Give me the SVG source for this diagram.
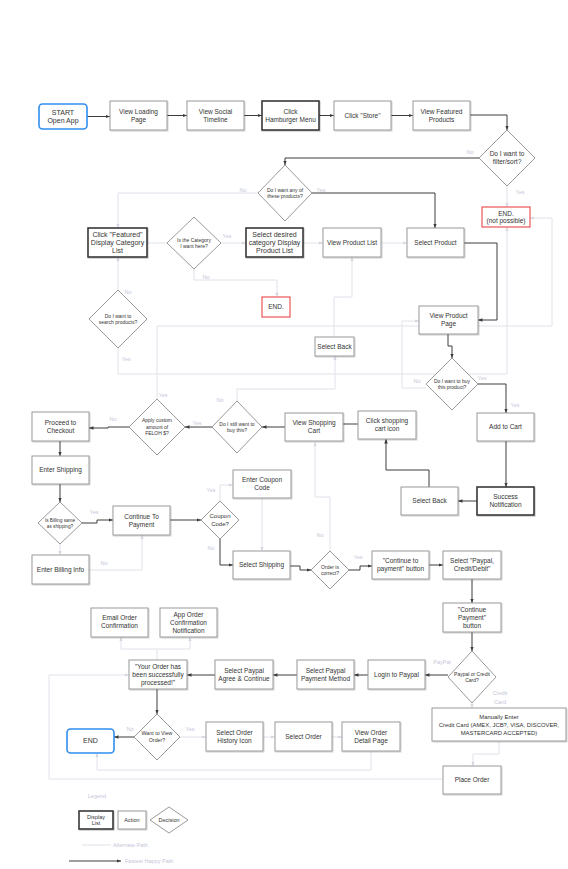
<svg xmlns="http://www.w3.org/2000/svg" width="568" height="869" viewBox="0 0 568 869">
<defs>
<style>
text{font-family:"Liberation Sans",Arial,sans-serif;fill:#333;text-anchor:middle}
.t{font-size:6.5px}
.td{font-size:7px}
.ts{font-size:5px}
.lb{font-size:5.5px;fill:#c6c6da}
.box{fill:#fff;stroke:#9a9a9a;stroke-width:1;filter:url(#sh)}
.disp{fill:#fff;stroke:#3a3a3a;stroke-width:1.6;filter:url(#sh)}
.dec{fill:#fff;stroke:#9a9a9a;stroke-width:1}
.blue{fill:#fff;stroke:#2f8ef0;stroke-width:1.6}
.red{fill:#fff;stroke:#e8464a;stroke-width:1.1}
.dk{fill:none;stroke:#3c3c3c;stroke-width:1;marker-end:url(#ad)}
.dn{fill:none;stroke:#3c3c3c;stroke-width:1}
.lt{fill:none;stroke:#e2e2ea;stroke-width:1;marker-end:url(#al)}
.ln{fill:none;stroke:#e2e2ea;stroke-width:1}
</style>
<filter id="sh" x="-10%" y="-10%" width="130%" height="140%"><feDropShadow dx="0.8" dy="0.9" stdDeviation="0.6" flood-color="#000" flood-opacity="0.22"/></filter>
<marker id="ad" viewBox="0 0 10 10" refX="10" refY="5" markerWidth="4.5" markerHeight="4.5" markerUnits="userSpaceOnUse" orient="auto"><path d="M0,1 L10,5 L0,9 z" fill="#3c3c3c"/></marker>
<marker id="al" viewBox="0 0 10 10" refX="10" refY="5" markerWidth="4" markerHeight="4" markerUnits="userSpaceOnUse" orient="auto"><path d="M0,1 L10,5 L0,9 z" fill="#d6d6e2"/></marker>
</defs>
<rect width="568" height="869" fill="#fff"/>

<g id="connectors">
<polyline class="dk" points="87,116.5 110,116.5"/>
<polyline class="dk" points="167,115.5 187,115.5"/>
<polyline class="dk" points="244,115.5 262,115.5"/>
<polyline class="dk" points="319,115.5 334,115.5"/>
<polyline class="dk" points="391,115.5 413,115.5"/>
<polyline class="dk" points="470,115 507,115 507,130"/>
<polyline class="dk" points="479,158 285,158 285,165"/>
<polyline class="dk" points="312,193 435,193 435,228"/>
<polyline class="dk" points="464,243 497,243 497,320 478,320"/>
<polyline class="dk" points="448,334 448,346 452,346 452,358"/>
<polyline class="dk" points="478,384 506,384 506,413"/>
<polyline class="dk" points="506,441 506,487"/>
<polyline class="dk" points="477,501 458,501"/>
<polyline class="dk" points="429,487 429,470 386,470 386,439"/>
<polyline class="dn" points="358,424 343,424"/>
<polyline class="dk" points="285,427 262,427"/>
<polyline class="dk" points="212,427 185,427"/>
<polyline class="dk" points="129,427 108,427 108,428 89,428"/>
<polyline class="dk" points="60,441 60,456"/>
<polyline class="dk" points="60,484 60,502"/>
<polyline class="dk" points="82,523 97,523 97,520 113,520"/>
<polyline class="dk" points="170,520 201,520"/>
<polyline class="dk" points="220,539 220,565 233,565"/>
<polyline class="dk" points="290,566 300,566 300,570 311,570"/>
<polyline class="dk" points="349,570 360,570 360,566 372,566"/>
<polyline class="dk" points="429,565 443,565"/>
<polyline class="dk" points="472,579 472,603"/>
<polyline class="dk" points="472,632 472,651"/>
<polyline class="dk" points="448,675 425,675"/>
<polyline class="dk" points="368,675 354,675"/>
<polyline class="dk" points="297,675 273,675"/>
<polyline class="dk" points="215,675 187,675"/>
<polyline class="dk" points="157,689 157,714"/>
<polyline class="dk" points="134,737 114,737"/>

<polyline class="lt" points="507,186 507,207"/>
<polyline class="lt" points="258,193 118,193 118,228"/>
<polyline class="ln" points="147,243 167,243"/>
<polyline class="lt" points="221,243 246,243"/>
<polyline class="lt" points="303,243 323,243"/>
<polyline class="lt" points="381,243 407,243"/>
<polyline class="lt" points="194,269 194,280 277,280 277,297"/>
<polyline class="lt" points="118,290 118,257"/>
<polyline class="lt" points="118,348 118,374 507,374 507,227"/>
<polyline class="lt" points="157,399 157,326 552,326 552,218 530,218"/>
<polyline class="lt" points="334,337 334,297 352,297 352,257"/>
<polyline class="lt" points="237,401 237,389 335,389 335,356"/>
<polyline class="lt" points="426,388 402,388 402,321 419,321"/>
<polyline class="lt" points="330,551 330,497 315,497 315,442"/>
<polyline class="lt" points="220,501 220,485 233,485"/>
<polyline class="lt" points="262,498 262,551"/>
<polyline class="lt" points="60,544 60,555"/>
<polyline class="lt" points="89,570 142,570 142,535"/>
<polyline class="lt" points="180,737 206,737"/>
<polyline class="lt" points="263,737 275,737"/>
<polyline class="lt" points="332,737 342,737"/>
<polyline class="lt" points="371,751 371,770 97,770 97,753"/>
<polyline class="lt" points="443,779 49,779 49,675 129,675"/>
<polyline class="ln" points="157,660 157,649"/>
<polyline class="ln" points="121,649 190,649"/>
<polyline class="lt" points="121,649 121,637"/>
<polyline class="lt" points="190,649 190,637"/>
<polyline class="lt" points="472,703 472,708"/>
<polyline class="lt" points="499,741 499,754 473,754 473,766"/>

<text class="lb" x="470" y="154">No</text>
<text class="lb" x="520" y="194">Yes</text>
<text class="lb" x="321" y="192">Yes</text>
<text class="lb" x="243" y="192">No</text>
<text class="lb" x="227" y="238">Yes</text>
<text class="lb" x="206" y="279">No</text>
<text class="lb" x="128" y="294">No</text>
<text class="lb" x="126" y="361">Yes</text>
<text class="lb" x="163" y="397">Yes</text>
<text class="lb" x="220" y="402">No</text>
<text class="lb" x="197" y="425">Yes</text>
<text class="lb" x="113" y="421">No</text>
<text class="lb" x="417" y="383">No</text>
<text class="lb" x="482" y="380">Yes</text>
<text class="lb" x="515" y="407">Yes</text>
<text class="lb" x="94" y="514">Yes</text>
<text class="lb" x="104" y="565">No</text>
<text class="lb" x="211" y="492">Yes</text>
<text class="lb" x="211" y="550">No</text>
<text class="lb" x="320" y="537">No</text>
<text class="lb" x="358" y="559">Yes</text>
<text class="lb" x="442" y="664">PayPal</text>
<text class="lb" x="500" y="695">Credit</text>
<text class="lb" x="500" y="704">Card</text>
<text class="lb" x="130" y="731">No</text>
<text class="lb" x="190" y="731">Yes</text>
</g>

<g id="start"><rect class="blue" x="39" y="104" width="48" height="25" rx="3.5"/><text class="td" x="63" y="114.7">START</text><text class="td" x="63" y="123.2">Open App</text></g>
<g id="loading"><rect class="box" x="110" y="101" width="57" height="29"/><text class="t" x="138.5" y="113.8">View Loading</text><text class="t" x="138.5" y="121.8">Page</text></g>
<g id="social"><rect class="box" x="187" y="101" width="57" height="29"/><text class="t" x="215.5" y="113.8">View Social</text><text class="t" x="215.5" y="121.8">Timeline</text></g>
<g id="hamburger"><rect class="disp" x="262" y="101" width="57" height="29"/><text class="t" x="290.5" y="113.8">Click</text><text class="t" x="290.5" y="121.8">Hamburger Menu</text></g>
<g id="store"><rect class="box" x="334" y="101" width="57" height="29"/><text class="t" x="362.5" y="117.8">Click "Store"</text></g>
<g id="featured"><rect class="box" x="413" y="101" width="57" height="29"/><text class="t" x="441.5" y="113.8">View Featured</text><text class="t" x="441.5" y="121.8">Products</text></g>
<g id="filter"><polygon class="dec" points="507,130 535,158 507,186 479,158"/><text class="t" x="507" y="156.3">Do I want to</text><text class="t" x="507" y="164.3">filter/sort?</text></g>
<g id="end-np"><rect class="red" x="482" y="207" width="48" height="20"/><text class="t" x="506" y="215.5">END.</text><text class="t" x="506" y="223">(not possible)</text></g>
<g id="anyprod"><polygon class="dec" points="285,165 312,193 285,221 258,193"/><text class="ts" x="285" y="191.5">Do I want any of</text><text class="ts" x="285" y="198">these products?</text></g>
<g id="clickfeat"><rect class="disp" x="88" y="228" width="59" height="29"/><text class="td" x="117.5" y="236.9">Click "Featured"</text><text class="td" x="117.5" y="244.9">Display Category</text><text class="td" x="117.5" y="252.9">List</text></g>
<g id="iscat"><polygon class="dec" points="194,217 221,243 194,269 167,243"/><text class="ts" x="194" y="241.5">Is the Category</text><text class="ts" x="194" y="248">I want here?</text></g>
<g id="selcat"><rect class="disp" x="246" y="228" width="57" height="29"/><text class="td" x="274.5" y="236.9">Select desired</text><text class="td" x="274.5" y="244.9">category Display</text><text class="td" x="274.5" y="252.9">Product List</text></g>
<g id="viewlist"><rect class="box" x="323" y="228" width="58" height="29"/><text class="t" x="352" y="244.8">View Product List</text></g>
<g id="selprod"><rect class="box" x="407" y="228" width="57" height="29"/><text class="t" x="435.5" y="244.8">Select Product</text></g>
<g id="end1"><rect class="red" x="262" y="297" width="28" height="20"/><text class="t" x="276" y="309.3">END.</text></g>
<g id="search"><polygon class="dec" points="118,290 147,319 118,348 89,319"/><text class="ts" x="118" y="317.5">Do I want to</text><text class="ts" x="118" y="324">search products?</text></g>
<g id="selback1"><rect class="box" x="315" y="337" width="39" height="19"/><text class="t" x="334.5" y="348.8">Select Back</text></g>
<g id="viewpp"><rect class="box" x="419" y="306" width="59" height="28"/><text class="t" x="448.5" y="318.3">View Product</text><text class="t" x="448.5" y="326.3">Page</text></g>
<g id="buy"><polygon class="dec" points="452,358 478,384 452,410 426,384"/><text class="ts" x="452" y="382.5">Do I want to buy</text><text class="ts" x="452" y="389">this product?</text></g>
<g id="addcart"><rect class="box" x="477" y="413" width="57" height="28"/><text class="t" x="505.5" y="429.3">Add to Cart</text></g>
<g id="success"><rect class="disp" x="477" y="487" width="57" height="28"/><text class="t" x="505.5" y="499.3">Success</text><text class="t" x="505.5" y="507.3">Notification</text></g>
<g id="selback2"><rect class="box" x="401" y="487" width="57" height="28"/><text class="t" x="429.5" y="503.3">Select Back</text></g>
<g id="clickcart"><rect class="box" x="358" y="411" width="58" height="28"/><text class="t" x="387" y="423.3">Click shopping</text><text class="t" x="387" y="431.3">cart icon</text></g>
<g id="viewcart"><rect class="box" x="285" y="413" width="58" height="28"/><text class="t" x="314" y="425.3">View Shopping</text><text class="t" x="314" y="433.3">Cart</text></g>
<g id="stillbuy"><polygon class="dec" points="237,401 262,427 237,453 212,427"/><text class="ts" x="237" y="425.5">Do I still want to</text><text class="ts" x="237" y="432">buy this?</text></g>
<g id="apply"><polygon class="dec" points="157,399 185,427 157,455 129,427"/><text class="ts" x="157" y="422.3">Apply custom</text><text class="ts" x="157" y="428.8">amount of</text><text class="ts" x="157" y="435.3">FELOH $?</text></g>
<g id="checkout"><rect class="box" x="32" y="412" width="57" height="29"/><text class="t" x="60.5" y="424.8">Proceed to</text><text class="t" x="60.5" y="432.8">Checkout</text></g>
<g id="entership"><rect class="box" x="32" y="456" width="57" height="28"/><text class="t" x="60.5" y="472.3">Enter Shipping</text></g>
<g id="billing"><polygon class="dec" points="60,502 82,523 60,544 38,523"/><text style="font-size:4.7px" x="60" y="521.7">Is Billing same</text><text style="font-size:4.7px" x="60" y="527.7">as shipping?</text></g>
<g id="contpay"><rect class="box" x="113" y="506" width="57" height="29"/><text class="t" x="141.5" y="518.8">Continue To</text><text class="t" x="141.5" y="526.8">Payment</text></g>
<g id="coupon"><polygon class="dec" points="220,501 239,520 220,539 201,520"/><text style="font-size:6px" x="220" y="518.4">Coupon</text><text style="font-size:6px" x="220" y="525.9">Code?</text></g>
<g id="entercoupon"><rect class="box" x="233" y="470" width="58" height="28"/><text class="t" x="262" y="482.3">Enter Coupon</text><text class="t" x="262" y="490.3">Code</text></g>
<g id="selship"><rect class="box" x="233" y="551" width="57" height="28"/><text class="t" x="261.5" y="567.3">Select Shipping</text></g>
<g id="enterbill"><rect class="box" x="32" y="555" width="57" height="29"/><text class="t" x="60.5" y="571.8">Enter Billing Info</text></g>
<g id="ordercorrect"><polygon class="dec" points="330,551 349,570 330,589 311,570"/><text class="ts" x="330" y="568.5">Order is</text><text class="ts" x="330" y="575">correct?</text></g>
<g id="contpaybtn"><rect class="box" x="372" y="551" width="57" height="28"/><text class="t" x="400.5" y="563.3">"Continue to</text><text class="t" x="400.5" y="571.3">payment" button</text></g>
<g id="selpaypal"><rect class="box" x="443" y="551" width="58" height="28"/><text class="t" x="472" y="563.3">Select "Paypal,</text><text class="t" x="472" y="571.3">Credit/Debit"</text></g>
<g id="contpayment"><rect class="box" x="443" y="603" width="58" height="29"/><text class="t" x="472" y="611.8">"Continue</text><text class="t" x="472" y="619.8">Payment"</text><text class="t" x="472" y="627.8">button</text></g>
<g id="pporcc"><polygon class="dec" points="472,651 496,677 472,703 448,677"/><text class="ts" x="472" y="675.5">Paypal or Credit</text><text class="ts" x="472" y="682">Card?</text></g>
<g id="login"><rect class="box" x="368" y="660" width="57" height="29"/><text class="t" x="396.5" y="676.8">Login to Paypal</text></g>
<g id="selppmethod"><rect class="box" x="297" y="660" width="57" height="29"/><text class="t" x="325.5" y="672.8">Select  Paypal</text><text class="t" x="325.5" y="680.8">Payment Method</text></g>
<g id="agree"><rect class="box" x="215" y="660" width="58" height="29"/><text class="t" x="244" y="672.8">Select Paypal</text><text class="t" x="244" y="680.8">Agree &amp; Continue</text></g>
<g id="yourorder"><rect class="box" x="129" y="660" width="58" height="29"/><text class="t" x="158" y="668.8">"Your Order has</text><text class="t" x="158" y="676.8">been successfully</text><text class="t" x="158" y="684.8">processed!"</text></g>
<g id="email"><rect class="box" x="91" y="608" width="57" height="29"/><text class="t" x="119.5" y="620.3">Email Order</text><text class="t" x="119.5" y="628.3">Confirmation</text></g>
<g id="apporder"><rect class="box" x="160" y="608" width="57" height="29"/><text class="t" x="188.5" y="616.8">App Order</text><text class="t" x="188.5" y="624.8">Confirmation</text><text class="t" x="188.5" y="632.8">Notification</text></g>
<g id="wantview"><polygon class="dec" points="157,714 180,737 157,760 134,737"/><text style="font-size:5.3px" x="157" y="735.4">Want to View</text><text style="font-size:5.3px" x="157" y="742.4">Order?</text></g>
<g id="end2"><rect class="blue" x="67" y="729" width="47" height="24" rx="3.5"/><text class="td" x="90.5" y="743.4">END</text></g>
<g id="orderhist"><rect class="box" x="206" y="722" width="57" height="29"/><text class="t" x="234.5" y="734.8">Select Order</text><text class="t" x="234.5" y="742.8">History Icon</text></g>
<g id="selorder"><rect class="box" x="275" y="722" width="57" height="29"/><text class="t" x="303.5" y="738.8">Select Order</text></g>
<g id="vieworder"><rect class="box" x="342" y="722" width="58" height="29"/><text class="t" x="371" y="734.8">View Order</text><text class="t" x="371" y="742.8">Detail Page</text></g>
<g id="manual"><rect class="box" x="432" y="708" width="134" height="33"/><text style="font-size:5.9px" x="499" y="718.7">Manually Enter</text><text style="font-size:5.9px" x="499" y="726.7">Credit Card (AMEX, JCB?, VISA, DISCOVER,</text><text style="font-size:5.9px" x="499" y="734.7">MASTERCARD ACCEPTED)</text></g>
<g id="placeorder"><rect class="box" x="443" y="766" width="58" height="28"/><text class="t" x="472" y="782.3">Place Order</text></g>

<g id="legend">
<text class="lb" x="97" y="798">Legend</text>
<rect class="disp" x="79" y="811" width="34" height="18"/><text class="ts" x="96" y="818.6" style="font-size:5.5px">Display</text><text class="ts" x="96" y="825.2" style="font-size:5.5px">List</text>
<rect class="box" x="118" y="811" width="28" height="18"/><text style="font-size:5.5px" x="132" y="821.9">Action</text>
<polygon class="dec" points="169,807 188,820 169,833 150,820"/><text style="font-size:5.5px" x="169" y="821.9">Decision</text>
<line class="ln" x1="82" y1="845" x2="111" y2="845"/><text class="lb" x="113" y="847" style="text-anchor:start">Alternate Path</text>
<line class="dk" x1="69" y1="861" x2="121" y2="861"/><text class="lb" x="125" y="863" style="text-anchor:start">Fastest Happy Path</text>
</g>
</svg>
